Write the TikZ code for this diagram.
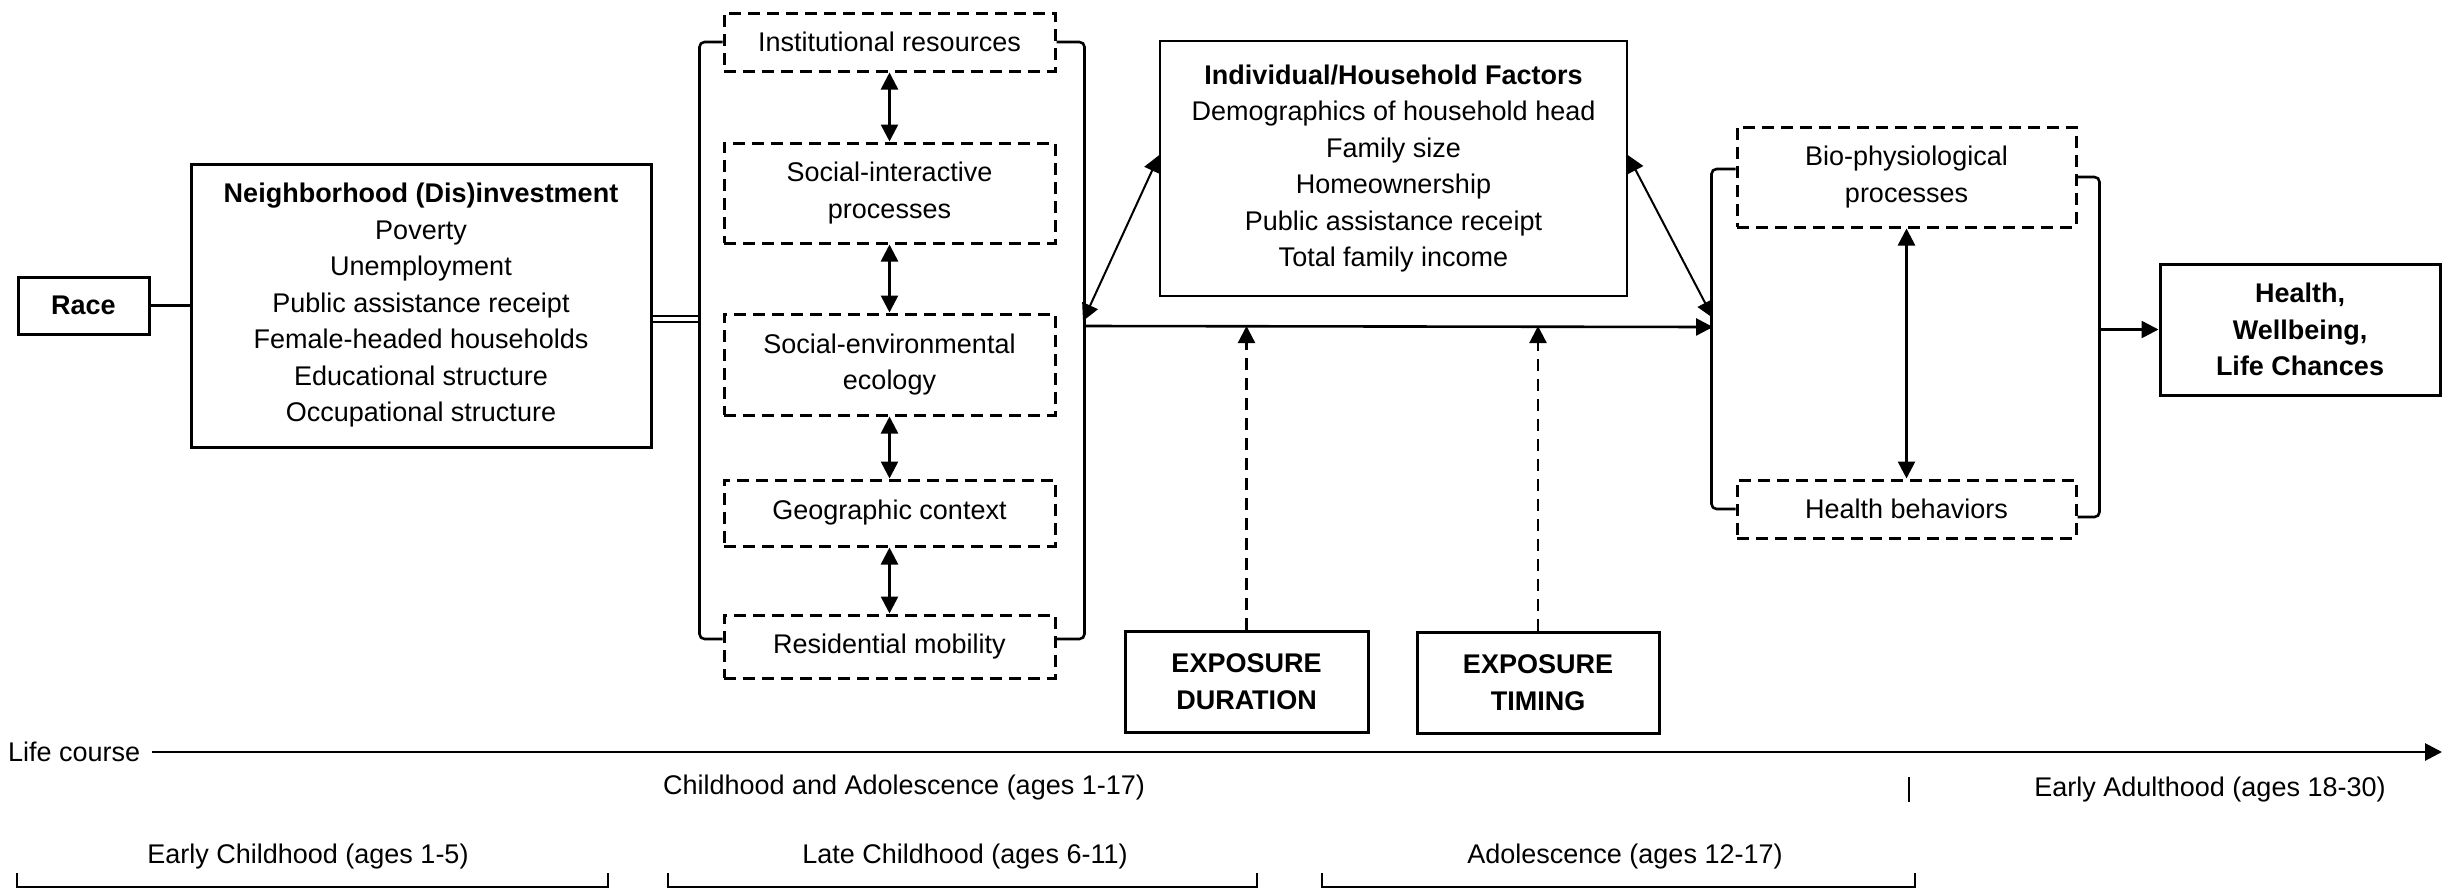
\documentclass[tikz,border=0pt]{standalone}
\usepackage{fontspec}
\setmainfont{Liberation Sans}
\usetikzlibrary{arrows.meta}
\newcommand\dtxt{\fontsize{27}{36.5}\selectfont}
\tikzset{
  box/.style={draw, line width=3pt, inner sep=0pt, align=center, font=\dtxt},
  dbox/.style={draw, dash pattern=on 12pt off 7pt, line width=3pt, inner sep=0pt, align=center, font=\dtxt},
  lbl/.style={inner sep=0pt, font=\dtxt},
  conn/.style={line width=2.6pt},
  dconn/.style={line width=2.2pt, dash pattern=on 12pt off 8pt},
  tip/.style={-{Triangle[length=17pt,width=17pt]}},
  dtip/.style={{Triangle[length=17pt,width=17pt]}-{Triangle[length=17pt,width=17pt]}}
}
\begin{document}
\begin{tikzpicture}[x=1pt,y=-1pt]
\useasboundingbox (0,0) rectangle (2450,889);
% nodes
\node[box, font=\dtxt\bfseries, minimum width=131pt, minimum height=57pt] (race) at (83.5,305.5) {Race};
\node[box, minimum width=460pt, minimum height=283pt] (nbh) at (421,305.5)
  {{\bfseries Neighborhood (Dis)investment}\\Poverty\\Unemployment\\Public assistance receipt\\Female-headed households\\Educational structure\\Occupational structure};
\node[dbox, minimum width=331pt, minimum height=58pt] (inst) at (889.5,42) {Institutional resources};
\node[dbox, minimum width=331pt, minimum height=100pt] (soci) at (889.5,193) {Social-interactive\\processes};
\node[dbox, minimum width=331pt, minimum height=101pt] (soce) at (889.5,364.5) {Social-environmental\\ecology};
\node[dbox, minimum width=331pt, minimum height=66pt] (geo) at (889.5,513) {Geographic context};
\node[dbox, minimum width=331pt, minimum height=63pt] (resi) at (889.5,646.5) {Residential mobility};
\node[box, line width=1.5pt, minimum width=467pt, minimum height=255pt] (indiv) at (1393.5,168.5)
  {{\bfseries Individual/Household Factors}\\Demographics of household head\\Family size\\Homeownership\\Public assistance receipt\\Total family income};
\node[box, font=\dtxt\bfseries, minimum width=243pt, minimum height=101pt] (expd) at (1246.5,681.5) {EXPOSURE\\DURATION};
\node[box, font=\dtxt\bfseries, minimum width=242pt, minimum height=101pt] (expt) at (1538,682.5) {EXPOSURE\\TIMING};
\node[dbox, minimum width=339pt, minimum height=100pt] (bio) at (1906.5,177) {Bio-physiological\\processes};
\node[dbox, minimum width=339pt, minimum height=58pt] (hb) at (1906.5,509) {Health behaviors};
\node[box, font=\dtxt\bfseries, minimum width=280pt, minimum height=131pt] (health) at (2300,329.5) {Health,\\Wellbeing,\\Life Chances};
% coordinates
\coordinate (b1L) at (701,319);
\coordinate (m1) at (1083,326);
\coordinate (m2) at (1713,327);
\coordinate (d1) at (1083,321);
\coordinate (d2) at (1713,318);
\coordinate (b2r) at (2098,329.5);
% connectors
\draw[conn] (race) -- (nbh);
\draw[line width=1.6pt, double, double distance=4pt] ([yshift=-13.5pt]nbh.east) -- (b1L);
\draw[conn, rounded corners=5pt] (inst.west) -- ++(-23,0) |- ([yshift=7.5pt]resi.west);
\draw[conn, rounded corners=5pt] (inst.east) -- ++(28,0) |- ([yshift=7.5pt]resi.east);
\draw[conn, dtip] (inst.south) -- (soci.north);
\draw[conn, dtip] (soci.south) -- (soce.north);
\draw[conn, dtip] (soce.south) -- (geo.north);
\draw[conn, dtip] (geo.south) -- (resi.north);
\draw[conn, tip] (m1) -- (m2);
\draw[line width=2pt, dtip] (d1) -- ([yshift=13.5pt]indiv.west);
\draw[line width=2pt, dtip] ([yshift=13.5pt]indiv.east) -- (d2);
\draw[dconn, tip] (expd.north) -- (expd.north |- m1);
\draw[dconn, tip] (expt.north) -- (expt.north |- m1);
\draw[conn, rounded corners=5pt] ([yshift=8pt]bio.west) -- ++(-24,0) |- (hb.west);
\draw[conn, rounded corners=5pt] (bio.east) -- ++(22,0) |- ([yshift=-8pt]hb.east);
\draw[conn, dtip] (bio.south) -- (hb.north);
\draw[conn, tip] (b2r) -- (health.west);
% life course
\node[lbl, anchor=west] (lcl) at (8,752) {Life course};
\coordinate (lcend) at (2442,752);
\draw[line width=2.8pt, tip] ([xshift=12pt]lcl.east) -- (lcend);
\node[lbl] (ca) at (904,788) {Childhood and Adolescence (ages 1-17)};
\node[lbl] (ea) at (2210,790) {Early Adulthood (ages 18-30)};
\draw[conn] (1909,777) -- (1909,802);
\node[lbl] (ec) at (308,857) {Early Childhood (ages 1-5)};
\node[lbl] (lc) at (965,857) {Late Childhood (ages 6-11)};
\node[lbl] (ad) at (1625,857) {Adolescence (ages 12-17)};
\draw[conn] (17,873) -- (17,887) -- (608,887) -- (608,873);
\draw[conn] (668,873) -- (668,887) -- (1257,887) -- (1257,873);
\draw[conn] (1322,873) -- (1322,887) -- (1915,887) -- (1915,873);
\end{tikzpicture}
\end{document}
